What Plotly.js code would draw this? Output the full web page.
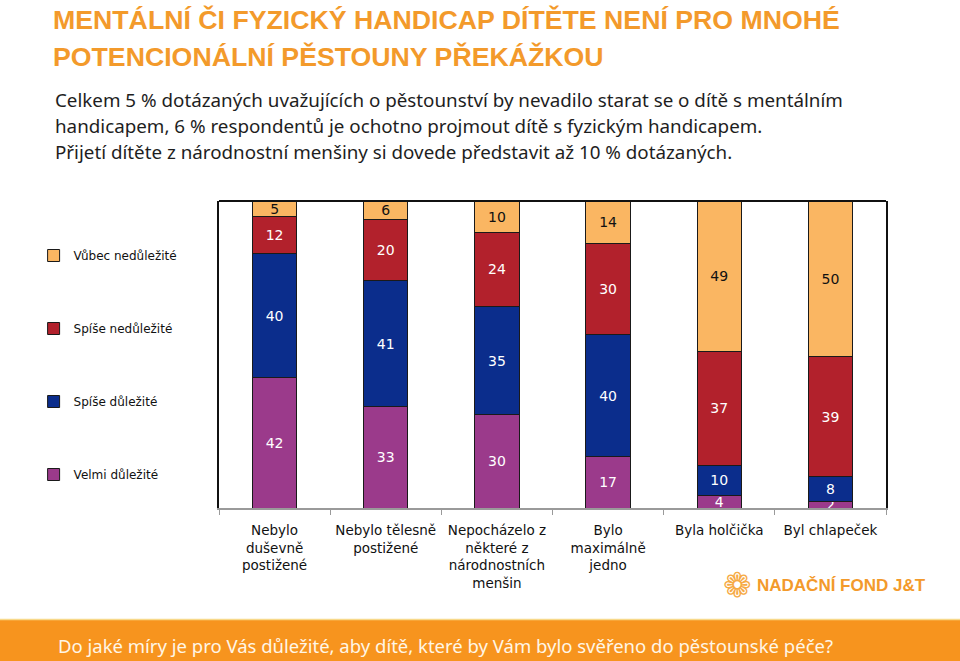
<!DOCTYPE html>
<html>
<head>
<meta charset="utf-8">
<script src="https://cdn.plot.ly/plotly-3.0.1.min.js"></script>
<style>
html,body{margin:0;padding:0;background:#fff;}
#chart{width:960px;height:661px;}
</style>
</head>
<body>
<div id="chart"></div>
<script>
// ---- data ----
var categories = [
  "Nebylo<br>duševně<br>postižené",
  "Nebylo tělesně<br>postižené",
  "Nepocházelo z<br>některé z<br>národnostních<br>menšin",
  "Bylo<br>maximálně<br>jedno",
  "Byla holčička",
  "Byl chlapeček"
];
var seriesNames = ["Velmi důležité", "Spíše důležité", "Spíše nedůležité", "Vůbec nedůležité"];
var velmiDulezite    = [42, 33, 30, 17, 4, 2];
var spiseDulezite    = [40, 41, 35, 40, 10, 8];
var spiseNedulezite  = [12, 20, 24, 30, 37, 39];
var vubecNedulezite  = [5, 6, 10, 14, 49, 50];

var titleLines = [
  "MENTÁLNÍ ČI FYZICKÝ HANDICAP DÍTĚTE NENÍ PRO MNOHÉ",
  "POTENCIONÁLNÍ PĚSTOUNY PŘEKÁŽKOU"
];
var subtitleLines = [
  "Celkem 5 % dotázaných uvažujících o pěstounství by nevadilo starat se o dítě s mentálním",
  "handicapem, 6 % respondentů je ochotno projmout dítě s fyzickým handicapem.",
  "Přijetí dítěte z národnostní menšiny si dovede představit až 10 % dotázaných."
];
var footerText = "Do jaké míry je pro Vás důležité, aby dítě, které by Vám bylo svěřeno do pěstounské péče?";
var logoText = "NADAČNÍ FOND J&T";

// ---- styles ----
var colors = ["#9B3A8B", "#0B2D8C", "#B2212C", "#FAB662"];
var textColors = ["#ffffff", "#ffffff", "#ffffff", "#111111"];
var allValues = [velmiDulezite, spiseDulezite, spiseNedulezite, vubecNedulezite];
var orange = "#F39A2B";

var traces = allValues.map(function(vals, i){
  return {
    type: "bar",
    name: seriesNames[i],
    x: categories,
    y: vals,
    text: vals.map(String),
    texttemplate: "%{text}",
    textposition: "inside",
    insidetextanchor: "middle",
    textangle: 0,
    textfont: {family: "DejaVu Sans, Verdana, sans-serif", size: 14, color: textColors[i]},
    marker: {color: colors[i], line: {color: "#1a1a1a", width: 1}},
    legendgroup: "g" + i,
    legendrank: 10 - i,
    hoverinfo: "skip"
  };
});

function py(pix){ return (508 - pix) / 307; }
function px(pix){ return (pix - 219) / 667; }

var annotations = [];
titleLines.forEach(function(t, i){
  annotations.push({
    text: "<b>" + t + "</b>", xref: "paper", yref: "paper", showarrow: false,
    x: px(51), y: py(20 + 37 * i), xanchor: "left", yanchor: "middle",
    font: {family: "Liberation Sans Narrow, Liberation Sans, sans-serif", size: 26.7, color: orange}
  });
});
subtitleLines.forEach(function(t, i){
  annotations.push({
    text: t, xref: "paper", yref: "paper", showarrow: false,
    x: px(53), y: py(100 + 26 * i),
    xanchor: "left", yanchor: "middle",
    font: {family: "Noto Sans, Open Sans, sans-serif", size: 18.8, color: "#1e1e1e"}
  });
});
annotations.push({
  text: footerText, xref: "paper", yref: "paper", showarrow: false,
  x: px(56), y: py(645), xanchor: "left", yanchor: "middle",
  font: {family: "Noto Sans, Open Sans, sans-serif", size: 18.5, color: "#FFF6E6"}
});
annotations.push({
  text: "<b>" + logoText + "</b>", xref: "paper", yref: "paper", showarrow: false,
  x: px(755), y: py(585), xanchor: "left", yanchor: "middle",
  font: {family: "Liberation Sans, Arial, sans-serif", size: 17, color: orange}
});
annotations.push({
  text: "❁", xref: "paper", yref: "paper", showarrow: false,
  x: px(737), y: py(585), xanchor: "center", yanchor: "middle",
  font: {family: "DejaVu Sans, sans-serif", size: 34, color: "#F6AA45"}
});

var layout = {
  width: 960, height: 661,
  margin: {l: 219, r: 74, t: 201, b: 153, pad: 0},
  paper_bgcolor: "#ffffff", plot_bgcolor: "#ffffff",
  barmode: "stack", barnorm: "percent", bargap: 0.6,
  showlegend: true,
  legend: {
    xref: "container", yref: "container",
    x: 0.035, y: 1 - 241 / 661, xanchor: "left", yanchor: "top",
    traceorder: "grouped", tracegroupgap: 54,
    font: {family: "DejaVu Sans, Verdana, sans-serif", size: 12, color: "#111"},
    bgcolor: "rgba(0,0,0,0)", itemwidth: 30
  },
  uniformtext: {mode: "show", minsize: 14},
  xaxis: {
    type: "category",
    showline: true, linecolor: "#9a9a9a", linewidth: 2,
    ticks: "outside", tickson: "boundaries", ticklen: 5, tickcolor: "#9a9a9a", tickwidth: 1,
    ticklabelstandoff: 9, tickangle: 0,
    showgrid: false, zeroline: false,
    tickfont: {family: "DejaVu Sans, Verdana, sans-serif", size: 13.5, color: "#111"},
    fixedrange: true
  },
  yaxis: {
    range: [0, 100], showticklabels: false, ticks: "", showgrid: false, zeroline: false,
    showline: true, mirror: true, linecolor: "#111", linewidth: 2, fixedrange: true
  },
  shapes: [
    {type: "line", xref: "paper", yref: "paper", x0: 0, x1: 1, y0: 1, y1: 1,
     line: {color: "#111", width: 2}},
    {type: "rect", xref: "paper", yref: "paper",
     x0: px(0), x1: px(960), y0: py(661), y1: py(620),
     fillcolor: "#F7941E", line: {width: 0}, layer: "below"},
    {type: "line", xref: "paper", yref: "paper",
     x0: px(0), x1: px(960), y0: py(619.5), y1: py(619.5),
     line: {color: "#F8D98A", width: 1.5}}
  ],
  annotations: annotations
};

Plotly.newPlot("chart", traces, layout, {displayModeBar: false, staticPlot: true});
</script>
</body>
</html>
